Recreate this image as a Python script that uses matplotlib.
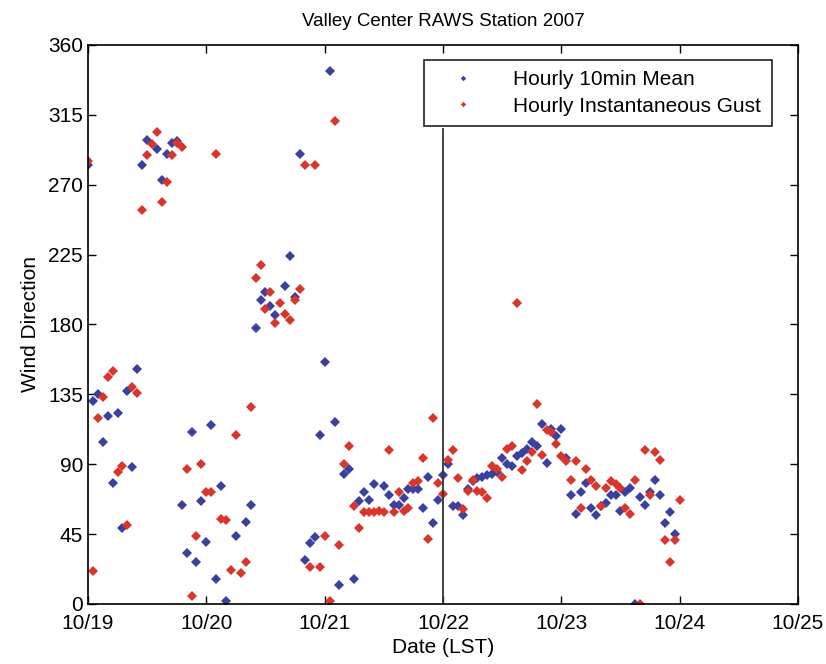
import numpy as np
import matplotlib.pyplot as plt

plt.rcParams['font.family'] = ['Liberation Sans', 'DejaVu Sans']

# hours since 10/19 00:00 LST, wind direction in degrees
mean_hr = [0, 1, 2, 3, 4, 5, 6, 7, 8, 9, 10, 11, 12, 14, 15, 16, 17, 18,
           19, 20, 21, 22, 23, 24, 25, 26, 27, 28, 30, 32, 33, 34, 35, 36,
           37, 38, 40, 41, 42, 43, 44, 45, 46, 47, 48, 49, 50, 51, 52, 53,
           54, 55, 56, 57, 58, 60, 61, 62, 63, 64, 65, 66, 67, 68, 69, 70,
           71, 72, 73, 74, 75, 76, 77, 78, 79, 80, 81, 82, 83, 84, 85, 86,
           87, 88, 89, 90, 91, 92, 93, 94, 95, 96, 97, 98, 99, 100, 101, 102,
           103, 104, 105, 106, 107, 108, 109, 110, 111, 112, 113, 114, 115,
           116, 117, 118, 119]
mean_dir = [283, 131, 135, 104, 121, 78, 123, 49, 137, 88, 151, 283, 299,
            293, 273, 290, 297, 298,
            64, 33, 111, 27, 66, 40, 115, 16, 76, 2, 44, 53, 64, 178, 196, 201,
            192, 186, 205, 224, 198, 290, 28, 39, 43, 109, 156, 343, 117, 12, 84, 87,
            16, 66, 72, 67, 77, 76, 70, 64, 64, 68, 74, 74, 74, 62, 82, 52,
            67, 83, 90, 63, 63, 57, 74, 79, 81, 82, 83, 84, 85, 94, 90, 89,
            95, 97, 100, 104, 102, 116, 91, 113, 108, 113, 94, 70, 58, 72, 78, 62,
            57, 63, 65, 70, 70, 60, 72, 75, 0, 69, 64, 72, 80,
            70, 52, 59, 45]

gust_hr = [0, 1, 2, 3, 4, 5, 6, 7, 8, 9, 10, 11, 12, 13, 14, 15, 16, 17, 18,
           19, 20, 21, 22, 23, 24, 25, 26, 27, 28, 29, 30, 31, 32, 33, 34, 35,
           36, 37, 38, 39, 40, 41, 42, 43, 44, 45, 46, 47, 48, 49, 50, 51, 52,
           53, 54, 55, 56, 57, 58, 59, 60, 61, 62, 63, 64, 65, 66, 67, 68, 69,
           70, 71, 72, 73, 74, 75, 76, 77, 78, 79, 80, 81, 82, 83, 84, 85, 86,
           87, 88, 89, 90, 91, 92, 93, 94, 95, 96, 97, 98, 99, 100, 101, 102,
           103, 104, 105, 106, 107, 108, 109, 110, 111, 112, 113, 114, 115,
           116, 117, 118, 119, 120]
gust_dir = [285, 21, 120, 133, 146, 150, 85, 89, 51, 140, 136, 254, 289, 296,
            304, 259, 272, 289, 297,
            294, 87, 5, 44, 90, 72, 72, 290, 55, 54, 22, 109, 20, 27, 127, 210, 218,
            190, 201, 181, 194, 187, 183, 196, 203, 283, 24, 283, 24, 44, 2, 311, 38, 90,
            102, 63, 49, 59, 59, 59, 60, 59, 99, 59, 72, 60, 62, 78, 79, 94, 42,
            120, 78, 71, 93, 99, 81, 61, 73, 80, 73, 72, 68, 89, 87, 82, 100, 102,
            194, 86, 92, 98, 129, 96, 112, 111, 103, 95, 92, 80, 92, 62, 87, 80,
            76, 63, 75, 79, 77, 75, 62, 58, 80, 0, 99, 70, 98,
            93, 41, 27, 41, 67]

day_labels = ['10/19', '10/20', '10/21', '10/22', '10/23', '10/24', '10/25']

fig = plt.figure(figsize=(8.26, 6.64), dpi=100)
ax = fig.add_axes([0.1065, 0.0904, 0.8596, 0.8419])

ax.plot(mean_hr, mean_dir, 'D', color='#3b3f9e', markersize=5.5, markeredgewidth=0,
        label='Hourly 10min Mean')
ax.plot(gust_hr, gust_dir, 'D', color='#d9352a', markersize=5.5, markeredgewidth=0,
        label='Hourly Instantaneous Gust')
# line at 10/22, it stops under the legend
ax.axvline(72, ymax=0.85, color='#333333', lw=1.3)

ax.set_xlim(0, 144)
ax.set_ylim(0, 360)
ax.set_xticks(np.arange(0, 145, 24))
ax.set_xticklabels(day_labels)
ax.set_yticks(np.arange(0, 361, 45))
ax.tick_params(direction='in', top=True, right=True, length=6, width=1, labelsize=15)
ax.tick_params(axis='x', pad=7)
for s in ax.spines.values():
    s.set_linewidth(1.2)

ax.set_xlabel('Date (LST)', fontsize=15, labelpad=4)
ax.set_ylabel('Wind Direction', fontsize=15, labelpad=6)
ax.set_title('Valley Center RAWS Station 2007', fontsize=13.5, pad=14)

leg = ax.legend(loc='upper right', bbox_to_anchor=(0.963, 0.973), borderaxespad=0,
                fontsize=15, fancybox=False, markerscale=0.5, handletextpad=1.0,
                handlelength=2.8, labelspacing=0.35, borderpad=0.5)
leg.get_frame().set_edgecolor('black')
leg.get_frame().set_linewidth(1.3)

plt.savefig('out.png', dpi=100)
